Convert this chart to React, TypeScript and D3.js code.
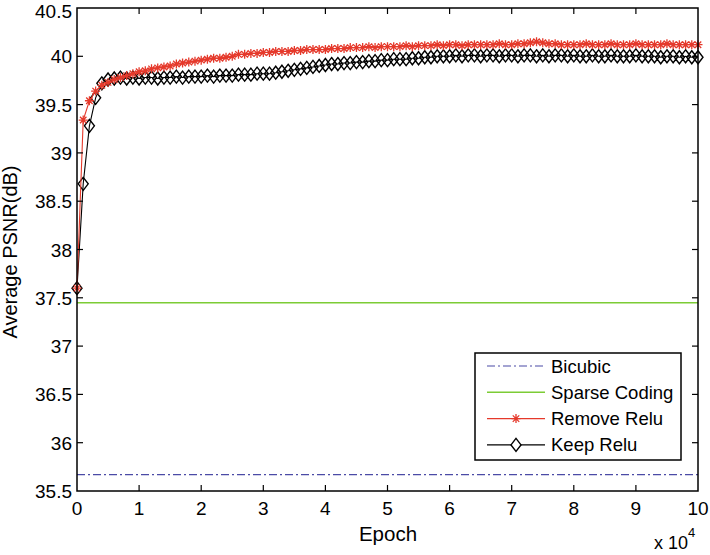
import React, { useEffect, useRef } from 'react';
import * as d3 from 'd3';

// epochs in units of 10^4, one point every 1000 epochs
const epochs: number[] = d3.range(0, 101).map(i => i / 10);

const removeRelu: number[] = [
  37.60, 39.34, 39.54, 39.64, 39.70, 39.73, 39.76, 39.78, 39.80, 39.82,
  39.84, 39.85, 39.87, 39.88, 39.89, 39.90, 39.92, 39.93, 39.94, 39.95,
  39.96, 39.97, 39.98, 39.98, 39.99, 40.00, 40.02, 40.02, 40.03, 40.03,
  40.04, 40.04, 40.05, 40.05, 40.05, 40.06, 40.06, 40.07, 40.07, 40.07,
  40.07, 40.08, 40.08, 40.08, 40.09, 40.09, 40.09, 40.10, 40.09, 40.10,
  40.10, 40.10, 40.10, 40.11, 40.10, 40.11, 40.11, 40.11, 40.12, 40.11,
  40.12, 40.12, 40.11, 40.12, 40.12, 40.12, 40.12, 40.12, 40.13, 40.12,
  40.12, 40.13, 40.13, 40.14, 40.15, 40.14, 40.13, 40.13, 40.12, 40.12,
  40.12, 40.12, 40.13, 40.12, 40.12, 40.12, 40.13, 40.12, 40.12, 40.12,
  40.13, 40.12, 40.12, 40.12, 40.12, 40.13, 40.12, 40.12, 40.12, 40.12,
  40.12
];

const keepRelu: number[] = [
  37.60, 38.68, 39.28, 39.57, 39.72, 39.76, 39.77, 39.78, 39.77, 39.78,
  39.77, 39.78, 39.78, 39.77, 39.78, 39.78, 39.79, 39.78, 39.79, 39.79,
  39.79, 39.80, 39.79, 39.80, 39.80, 39.80, 39.81, 39.81, 39.81, 39.82,
  39.82, 39.82, 39.83, 39.84, 39.85, 39.86, 39.87, 39.88, 39.89, 39.90,
  39.91, 39.92, 39.92, 39.93, 39.93, 39.94, 39.94, 39.95, 39.95, 39.96,
  39.96, 39.97, 39.97, 39.97, 39.98, 39.98, 39.99, 39.99, 40.00, 40.00,
  40.00, 40.01, 40.00, 40.01, 40.01, 40.00, 40.01, 40.01, 40.00, 40.01,
  40.01, 40.00, 40.01, 40.01, 40.00, 40.01, 40.00, 40.01, 40.01, 40.00,
  40.01, 40.00, 40.00, 40.01, 40.00, 40.00, 40.01, 40.00, 40.00, 40.00,
  40.01, 40.00, 40.00, 40.00, 39.99, 40.00, 40.00, 39.99, 40.00, 39.99,
  39.99
];

const bicubic = 35.67;
const sparseCoding = 37.45;

const xTicks: number[] = [0, 1, 2, 3, 4, 5, 6, 7, 8, 9, 10];
const yTicks: number[] = [35.5, 36, 36.5, 37, 37.5, 38, 38.5, 39, 39.5, 40, 40.5];

const legendNames: string[] = ['Bicubic', 'Sparse Coding', 'Remove Relu', 'Keep Relu'];

const BLUE = '#4b4ba6';
const GREEN = '#7ccc35';
const RED = '#e5392b';
const FONT = 'Liberation Sans, Arial, Helvetica, sans-serif';

function starPath(x: number, y: number, r: number) {
  const d = r * 0.72;
  return `M${x - r},${y}H${x + r}M${x},${y - r}V${y + r}` +
    `M${x - d},${y - d}L${x + d},${y + d}M${x - d},${y + d}L${x + d},${y - d}`;
}

function diamondPath(x: number, y: number, w: number, h: number) {
  return `M${x},${y - h}L${x + w},${y}L${x},${y + h}L${x - w},${y}Z`;
}

function Chart() {
  const ref = useRef<SVGSVGElement | null>(null);

  function drawChart() {
    const svgEl = d3.select(ref.current);
    svgEl.selectAll('*').remove();

    const left = 77, right = 698, top = 8, bottom = 491;

    const x = d3.scaleLinear().domain([0, 10]).range([left, right]);
    const y = d3.scaleLinear().domain([35.5, 40.5]).range([bottom, top]);

    const svg = svgEl.append('g');

    // white background
    svg.append('rect').attr('width', 710).attr('height', 555).attr('fill', '#fff');

    // constant baselines
    svg.append('line')
      .attr('x1', x(0)).attr('x2', x(10))
      .attr('y1', y(bicubic)).attr('y2', y(bicubic))
      .attr('stroke', BLUE).attr('stroke-width', 1.2)
      .attr('stroke-dasharray', '8,3,2,3');

    svg.append('line')
      .attr('x1', x(0)).attr('x2', x(10))
      .attr('y1', y(sparseCoding)).attr('y2', y(sparseCoding))
      .attr('stroke', GREEN).attr('stroke-width', 1.5);

    const line = d3.line<number>()
      .x((d, i) => x(epochs[i]))
      .y(d => y(d));

    // keep relu
    svg.append('path')
      .datum(keepRelu)
      .attr('d', line)
      .attr('fill', 'none')
      .attr('stroke', '#000')
      .attr('stroke-width', 1.1);

    svg.append('path')
      .attr('d', keepRelu.map((d, i) => diamondPath(x(epochs[i]), y(d), 5, 6.5)).join(''))
      .attr('fill', 'none')
      .attr('stroke', '#000')
      .attr('stroke-width', 1.4);

    // remove relu
    svg.append('path')
      .datum(removeRelu)
      .attr('d', line)
      .attr('fill', 'none')
      .attr('stroke', RED)
      .attr('stroke-width', 1.1);

    svg.append('path')
      .attr('d', removeRelu.map((d, i) => starPath(x(epochs[i]), y(d), 4.5)).join(''))
      .attr('fill', 'none')
      .attr('stroke', RED)
      .attr('stroke-width', 1.3);

    // axes box
    svg.append('rect')
      .attr('x', left).attr('y', top)
      .attr('width', right - left).attr('height', bottom - top)
      .attr('fill', 'none').attr('stroke', '#000').attr('stroke-width', 1.5);

    const tickLen = 6;
    const xAxis = svg.append('g');
    xTicks.forEach(t => {
      if (t > 0 && t < 10) {
        xAxis.append('line').attr('x1', x(t)).attr('x2', x(t))
          .attr('y1', bottom).attr('y2', bottom - tickLen).attr('stroke', '#000').attr('stroke-width', 1.2);
        xAxis.append('line').attr('x1', x(t)).attr('x2', x(t))
          .attr('y1', top).attr('y2', top + tickLen).attr('stroke', '#000').attr('stroke-width', 1.2);
      }
      xAxis.append('text')
        .attr('x', x(t)).attr('y', 515)
        .attr('text-anchor', 'middle')
        .attr('font-family', FONT).attr('font-size', 19)
        .text(String(t));
    });

    const yAxis = svg.append('g');
    yTicks.forEach(t => {
      if (t > 35.5 && t < 40.5) {
        yAxis.append('line').attr('x1', left).attr('x2', left + tickLen)
          .attr('y1', y(t)).attr('y2', y(t)).attr('stroke', '#000').attr('stroke-width', 1.2);
        yAxis.append('line').attr('x1', right).attr('x2', right - tickLen)
          .attr('y1', y(t)).attr('y2', y(t)).attr('stroke', '#000').attr('stroke-width', 1.2);
      }
      yAxis.append('text')
        .attr('x', 72).attr('y', Math.max(y(t) + 7, 17.5))
        .attr('text-anchor', 'end')
        .attr('font-family', FONT).attr('font-size', 19)
        .text(String(t));
    });

    // axis labels
    svg.append('text')
      .attr('x', 388).attr('y', 541)
      .attr('text-anchor', 'middle')
      .attr('font-family', FONT).attr('font-size', 20.5)
      .text('Epoch');

    svg.append('text')
      .attr('transform', `translate(16.5, 252) rotate(-90)`)
      .attr('text-anchor', 'middle')
      .attr('font-family', FONT).attr('font-size', 20)
      .text('Average PSNR(dB)');

    const mult = svg.append('text')
      .attr('x', 654).attr('y', 549)
      .attr('font-family', FONT).attr('font-size', 18);
    mult.append('tspan').text('x 10');
    mult.append('tspan').attr('dy', -12).attr('font-size', 13).text('4');

    // legend
    const lg = svg.append('g');
    lg.append('rect')
      .attr('x', 475).attr('y', 353).attr('width', 206).attr('height', 107)
      .attr('fill', '#fff').attr('stroke', '#000').attr('stroke-width', 1.5);

    legendNames.forEach((name, i) => {
      const cy = 366 + i * 26.3;
      const ln = lg.append('line')
        .attr('x1', 487).attr('x2', 545).attr('y1', cy).attr('y2', cy)
        .attr('stroke', [BLUE, GREEN, RED, '#000'][i])
        .attr('stroke-width', i === 0 ? 1.2 : (i === 1 ? 1.5 : 1.1));
      if (i === 0) ln.attr('stroke-dasharray', '8,3,2,3');
      if (i === 2) {
        lg.append('path').attr('d', starPath(516, cy, 4.5))
          .attr('stroke', RED).attr('stroke-width', 1.3).attr('fill', 'none');
      }
      if (i === 3) {
        lg.append('path').attr('d', diamondPath(516, cy, 5, 6.5))
          .attr('stroke', '#000').attr('stroke-width', 1.4).attr('fill', '#fff');
      }
      lg.append('text')
        .attr('x', 551).attr('y', cy + 6.5)
        .attr('font-family', FONT).attr('font-size', 18.5)
        .text(name);
    });
  }

  useEffect(() => {
    drawChart();
  }, []);

  return (
    <svg ref={ref} width={710} height={555}
      style={{ position: 'absolute', left: 0, top: 0, display: 'block' }} />
  );
}

export default function App() {
  return <Chart />;
}
